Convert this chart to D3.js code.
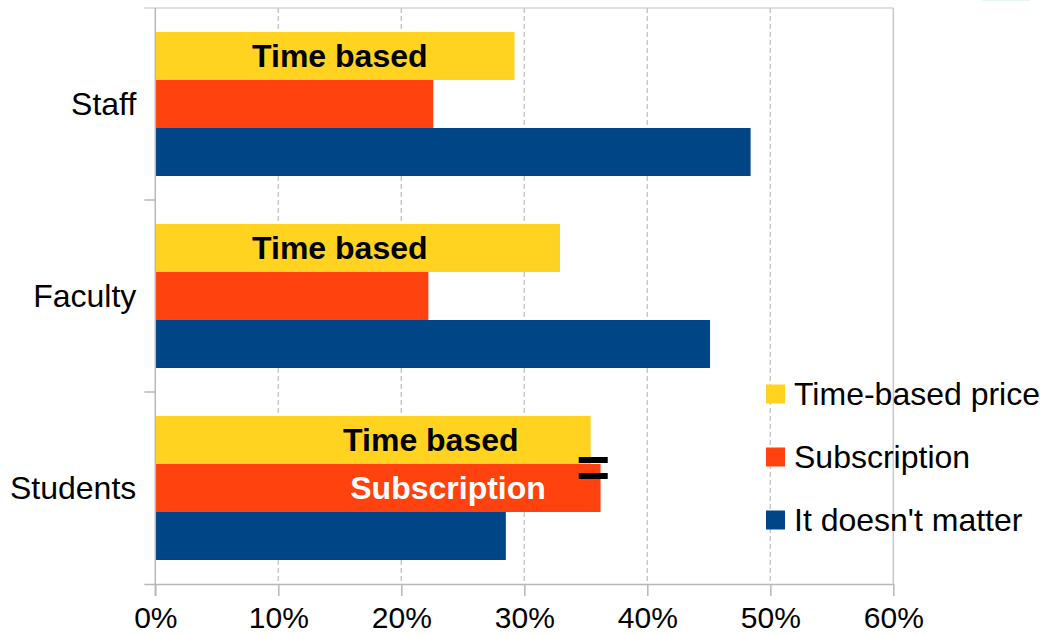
<!DOCTYPE html>
<html>
<head>
<meta charset="utf-8">
<script src="https://cdn.jsdelivr.net/npm/d3@7"></script>
<style>
  html, body { margin: 0; padding: 0; background: #fff; }
  svg { display: block; font-family: "Liberation Sans", Arial, sans-serif; }
</style>
</head>
<body>
<svg id="chart" width="1040" height="635"></svg>
<script>
// Survey groups (top to bottom) and pricing preference shares
const groups = ["Staff", "Faculty", "Students"];
const seriesNames = ["Time-based price", "Subscription", "It doesn't matter"];
const timeBased = [0.292, 0.329, 0.354];
const subscription = [0.226, 0.222, 0.362];
const doesntMatter = [0.484, 0.451, 0.285];
const xTicks = [0, 0.1, 0.2, 0.3, 0.4, 0.5, 0.6];
const colors = ["#ffd320", "#ff420e", "#004586"];

// In-bar annotations: [group, series, text, centre value, colour]
const barNotes = [
  ["Staff", "Time-based price", "Time based", 0.150, "#000"],
  ["Faculty", "Time-based price", "Time based", 0.150, "#000"],
  ["Students", "Time-based price", "Time based", 0.224, "#000"],
  ["Students", "Subscription", "Subscription", 0.238, "#fff"]
];

const values = [timeBased, subscription, doesntMatter];
const rows = [];
groups.forEach((g, gi) => seriesNames.forEach((s, si) => rows.push({ group: g, series: s, value: values[si][gi], color: colors[si] })));

const svg = d3.select("#chart");
const plotLeft = 155.3, plotRight = 893.3, plotTop = 8, plotBottom = 584;

const x = d3.scaleLinear().domain([0, 0.6]).range([plotLeft, plotRight]);
const y = d3.scaleBand().domain(groups).range([plotTop, plotBottom]);
const ySub = d3.scaleBand().domain(seriesNames).range([0, y.bandwidth()]).paddingOuter(0.5);

const gridColor = "#c8c8c8", axisColor = "#b8b8b8";

// faint accent at the top-right edge
svg.append("line").attr("x1", 982).attr("x2", 1030).attr("y1", 0.5).attr("y2", 0.5)
  .attr("stroke", "#e4f8f0").attr("stroke-width", 1);

// frame top edge
svg.append("line").attr("x1", plotLeft - 11).attr("x2", plotRight).attr("y1", plotTop).attr("y2", plotTop)
  .attr("stroke", "#d6d6d6").attr("stroke-width", 1.5);

// vertical gridlines
svg.append("g").selectAll("line").data(xTicks.slice(1)).join("line")
  .attr("x1", d => x(d)).attr("x2", d => x(d))
  .attr("y1", plotTop).attr("y2", plotBottom)
  .attr("stroke", gridColor).attr("stroke-width", 1.5)
  .attr("stroke-dasharray", (d, i) => i === xTicks.length - 2 ? null : "5,3");

// bars
svg.append("g").selectAll("rect").data(rows).join("rect")
  .attr("x", x(0))
  .attr("y", d => y(d.group) + ySub(d.series))
  .attr("width", d => x(d.value) - x(0))
  .attr("height", ySub.bandwidth())
  .attr("fill", d => d.color);

// x axis
const xAxis = svg.append("g").attr("transform", `translate(0,${plotBottom})`)
  .call(d3.axisBottom(x).tickValues(xTicks).tickFormat(d3.format(".0%")).tickSize(12).tickSizeOuter(0));
xAxis.select(".domain").attr("stroke", axisColor).attr("stroke-width", 1.5)
  .attr("d", `M${plotLeft - 11},0.5H${plotRight}`);
xAxis.selectAll(".tick line").attr("stroke", axisColor).attr("stroke-width", 1.5);
xAxis.selectAll(".tick text").attr("font-size", 30).attr("fill", "#000").attr("dy", "0.95em")
  .attr("font-family", "Liberation Sans, Arial, sans-serif");

// y axis with ticks at group boundaries
svg.append("line").attr("x1", plotLeft).attr("x2", plotLeft).attr("y1", plotTop).attr("y2", plotBottom + 12)
  .attr("stroke", axisColor).attr("stroke-width", 1.5);
svg.append("g").selectAll("line").data(groups.slice(1)).join("line")
  .attr("x1", plotLeft - 11).attr("x2", plotLeft)
  .attr("y1", d => y(d)).attr("y2", d => y(d))
  .attr("stroke", axisColor).attr("stroke-width", 1.5);
svg.append("g").selectAll("text").data(groups).join("text")
  .attr("x", plotLeft - 19).attr("y", d => y(d) + y.bandwidth() / 2)
  .attr("text-anchor", "end").attr("dominant-baseline", "central")
  .attr("font-size", 32).attr("fill", "#000").text(d => d);

// annotations inside bars
svg.append("g").selectAll("text").data(barNotes).join("text")
  .attr("x", d => x(d[3]))
  .attr("y", d => y(d[0]) + ySub(d[1]) + ySub.bandwidth() / 2)
  .attr("text-anchor", "middle").attr("dominant-baseline", "central")
  .attr("font-size", 32).attr("font-weight", "bold").attr("fill", d => d[4])
  .text(d => d[2]);

// "=" marker where student time-based and subscription shares meet
const eqX = x(timeBased[2]) - 12;
const eqMid = y("Students") + ySub("Subscription");
svg.append("g").selectAll("rect").data([-7, 9]).join("rect")
  .attr("x", eqX).attr("y", d => eqMid + d)
  .attr("width", 29).attr("height", 6).attr("fill", "#000");

// legend
const legend = svg.append("g").selectAll("g").data(seriesNames).join("g")
  .attr("transform", (d, i) => `translate(766,${394 + i * 63})`);
legend.append("rect").attr("x", 0).attr("y", -9.5).attr("width", 19).attr("height", 19)
  .attr("fill", (d, i) => colors[i]);
legend.append("text").attr("x", 28).attr("y", 0).attr("dominant-baseline", "central")
  .attr("font-size", 32).attr("fill", "#000").text(d => d);
</script>
</body>
</html>
